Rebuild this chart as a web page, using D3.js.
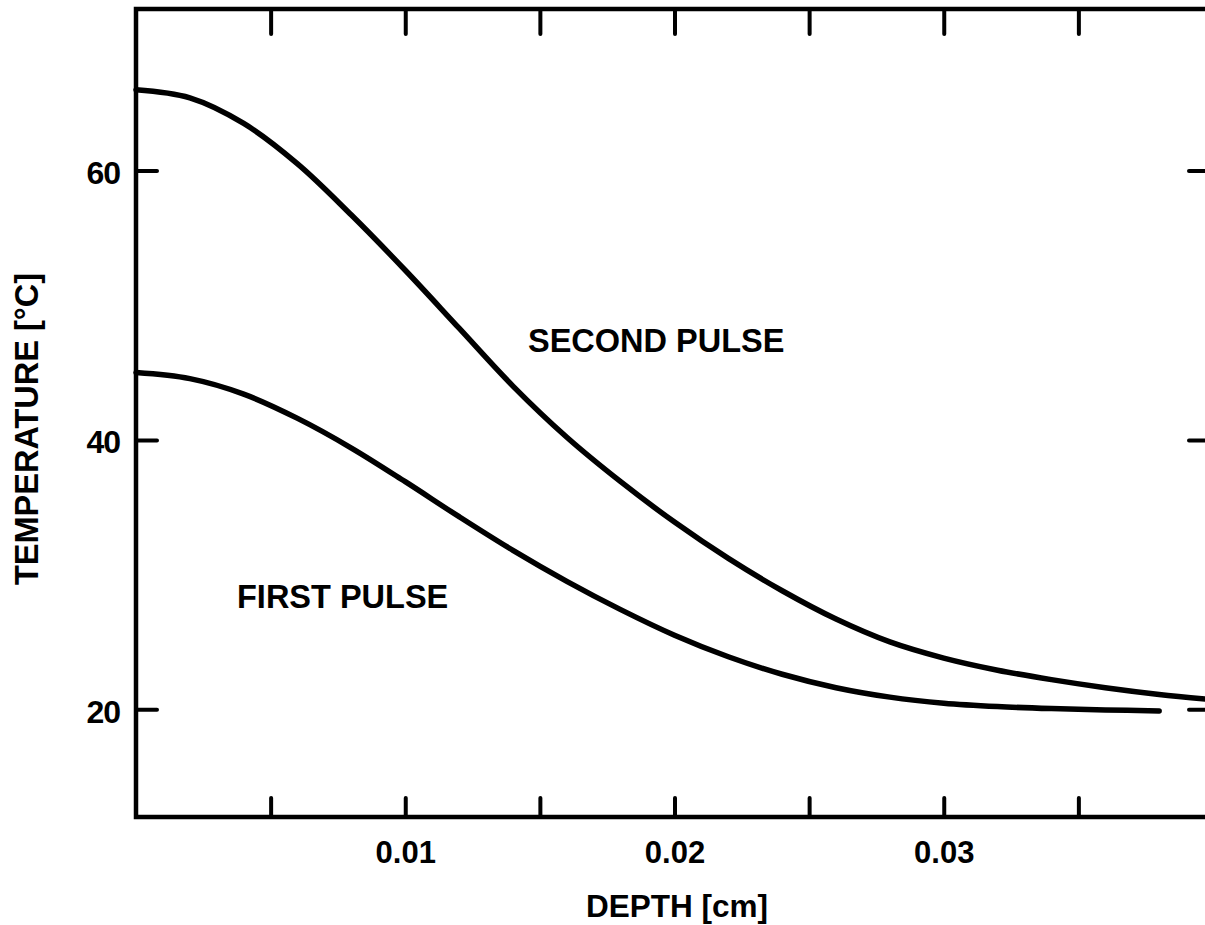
<!DOCTYPE html>
<html>
<head>
<meta charset="utf-8">
<script src="https://cdn.jsdelivr.net/npm/d3@7"></script>
<style>
  html, body { margin: 0; padding: 0; background: #fff; }
  svg { display: block; }
  .chart text { font-family: "Liberation Sans", Arial, Helvetica, sans-serif; font-weight: bold; fill: #000; }
</style>
</head>
<body>
<svg class="chart" width="1205" height="925"></svg>
<script>
// depth [cm] sampled every 0.002
const depths = [0, 0.002, 0.004, 0.006, 0.008, 0.010, 0.012, 0.014, 0.016, 0.018, 0.020,
                0.022, 0.024, 0.026, 0.028, 0.030, 0.032, 0.034, 0.036, 0.038, 0.040];
// temperatures [°C]
const secondPulse = [66.0, 65.4, 63.5, 60.5, 56.7, 52.6, 48.3, 44.0, 40.2, 36.9, 33.9,
                     31.2, 28.8, 26.7, 25.0, 23.8, 22.9, 22.2, 21.6, 21.1, 20.7];
const firstPulse = [45.0, 44.55, 43.4, 41.6, 39.4, 36.9, 34.3, 31.8, 29.5, 27.4, 25.5,
                    23.9, 22.6, 21.6, 20.9, 20.45, 20.2, 20.05, 19.95, 19.88];

const xTicks = [0.005, 0.01, 0.015, 0.02, 0.025, 0.03, 0.035];
const xLabels = [0.01, 0.02, 0.03];
const yTicks = [20, 40, 60];

const svg = d3.select(".chart");

const x = d3.scaleLinear().domain([0, 0.04]).range([136, 1213]);
const y = d3.scaleLinear().domain([12, 72]).range([817, 9]);

const styleAxis = g => {
  g.select(".domain").remove();
  g.attr("font-family", null);
  g.selectAll(".tick line").attr("stroke", "#000").attr("stroke-width", 4).attr("stroke-linecap", "round");
  g.selectAll(".tick text").attr("font-size", 31).attr("fill", "#000");
};

// bottom axis, labelled every 0.01
svg.append("g")
  .attr("transform", `translate(0,${y(12)})`)
  .call(d3.axisBottom(x).tickValues(xTicks).tickSize(-19).tickPadding(24)
        .tickFormat(d => xLabels.some(v => Math.abs(v - d) < 1e-9) ? d3.format(".2f")(d) : ""))
  .call(styleAxis);

svg.append("g")
  .attr("transform", `translate(0,${y(72)})`)
  .call(d3.axisTop(x).tickValues(xTicks).tickSize(-25).tickFormat(""))
  .call(styleAxis);

svg.append("g")
  .attr("transform", `translate(${x(0)},0)`)
  .call(d3.axisLeft(y).tickValues(yTicks).tickSize(-21).tickPadding(16))
  .call(styleAxis)
  .call(g => g.selectAll(".tick text").attr("dy", "0.4em").attr("font-size", 32).attr("letter-spacing", -1));

svg.append("g")
  .attr("transform", `translate(${x(0.04)},0)`)
  .call(d3.axisRight(y).tickValues(yTicks).tickSize(-24).tickFormat(""))
  .call(styleAxis);

// frame
svg.append("rect")
  .attr("x", x(0)).attr("y", y(72))
  .attr("width", x(0.04) - x(0)).attr("height", y(12) - y(72))
  .attr("fill", "none").attr("stroke", "#000").attr("stroke-width", 4.5);

const line = d3.line()
  .x(d => x(d[0]))
  .y(d => y(d[1]))
  .curve(d3.curveCatmullRom.alpha(0.5));

const curves = [secondPulse, firstPulse];
svg.selectAll(".curve")
  .data(curves)
  .enter()
  .append("path")
  .attr("class", "curve")
  .attr("d", vals => line(vals.map((v, i) => [depths[i], v])))
  .attr("fill", "none")
  .attr("stroke", "#000")
  .attr("stroke-width", 5.5)
  .attr("stroke-linecap", "round");

// curve labels
svg.append("text").attr("x", 528).attr("y", 352).attr("font-size", 32.5).text("SECOND PULSE");
svg.append("text").attr("x", 237).attr("y", 608).attr("font-size", 32.5).text("FIRST PULSE");

// axis titles
svg.append("text")
  .attr("x", 677).attr("y", 917)
  .attr("text-anchor", "middle").attr("font-size", 31.5)
  .text("DEPTH [cm]");

svg.append("text")
  .attr("transform", "translate(38,429) rotate(-90)")
  .attr("text-anchor", "middle").attr("font-size", 32.5)
  .text("TEMPERATURE [°C]");
</script>
</body>
</html>
